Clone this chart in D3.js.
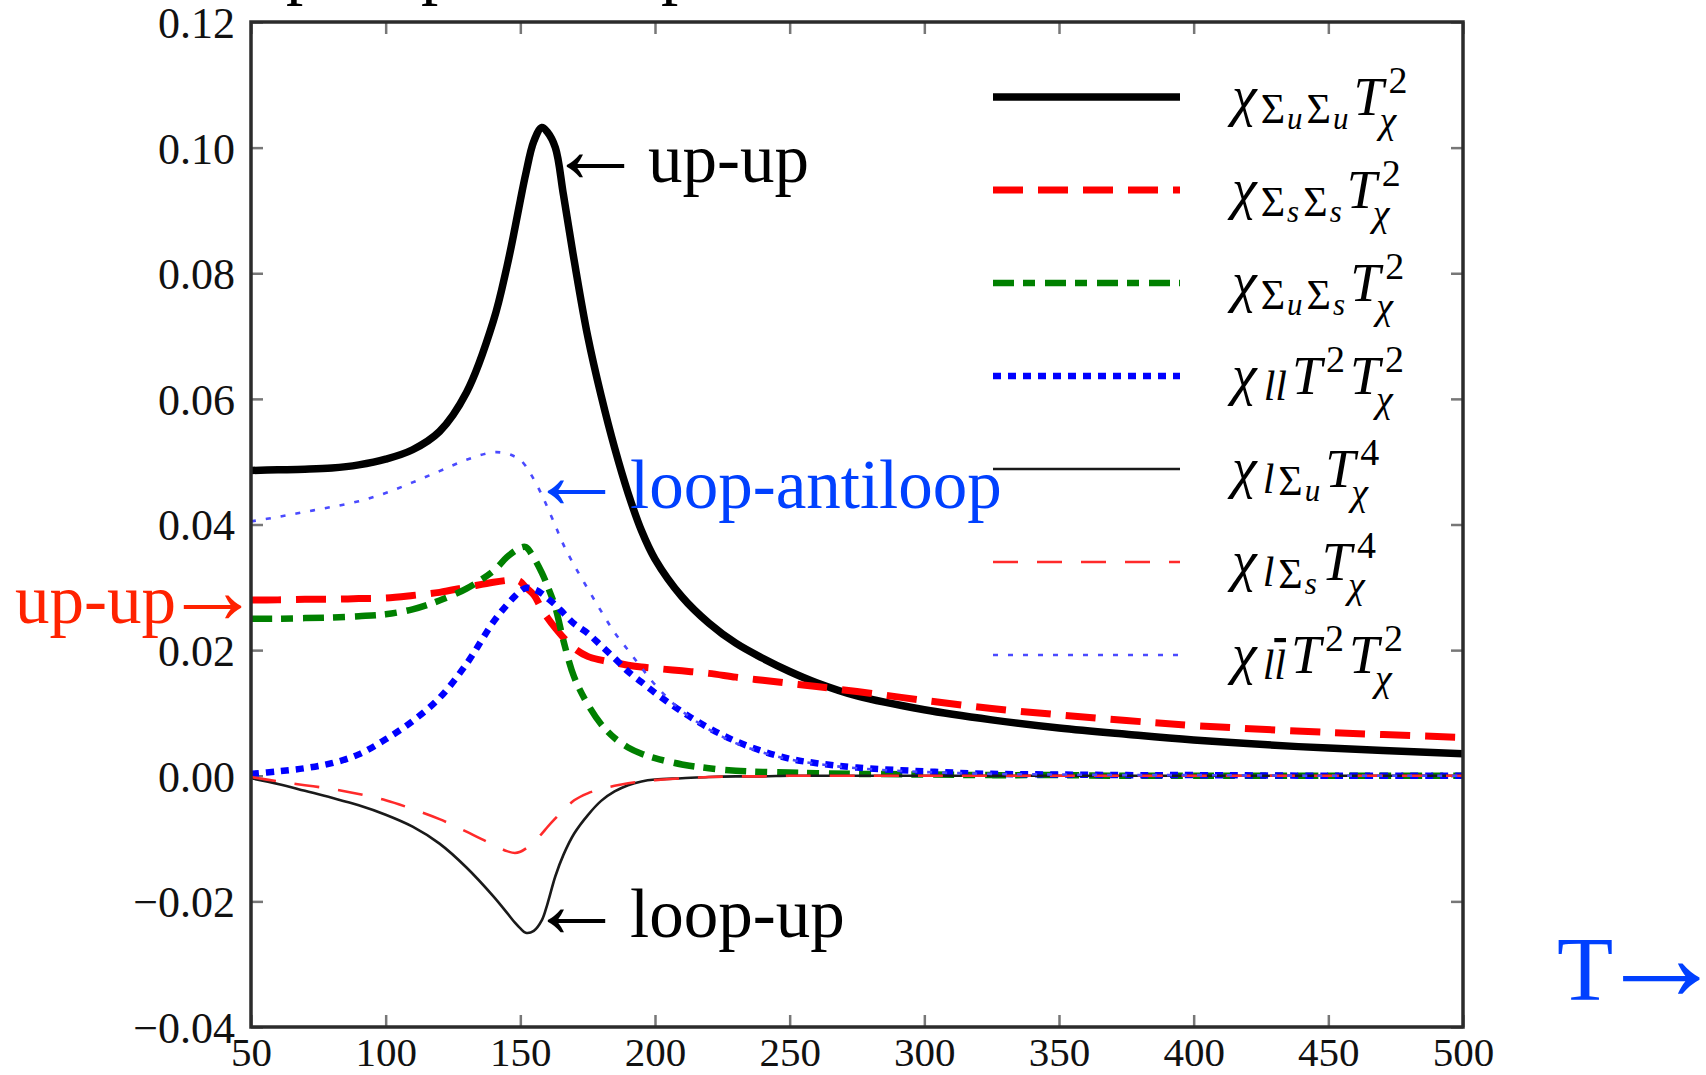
<!DOCTYPE html>
<html><head><meta charset="utf-8">
<script src="https://cdn.jsdelivr.net/npm/d3@7"></script>
<style>
html,body{margin:0;padding:0;background:#fff;}
svg{display:block;font-family:'Liberation Serif','Times New Roman',serif;}
</style></head><body>
<svg id="chart" width="1706" height="1075"></svg>
<script>
// ---- data ----
const tempT  = [50,60,70,80,90,100,110,120,130,140,145,148,150,152,155,158,160,163,166,170,175,180,185,190,195,200,210,220,230,240,250,260,275,300,325,350,375,400,450,500];
const chiUU  = [.0486,.0487,.0488,.0490,.0495,.0504,.0519,.0548,.0610,.0724,.0810,.0872,.0916,.0958,.1010,.1032,.1025,.1000,.0925,.0820,.0700,.0605,.0522,.0450,.0390,.0345,.0285,.0243,.0211,.0187,.0166,.0148,.0127,.0105,.0089,.0076,.0066,.0057,.0044,.0035];
const chiSS  = [.0280,.0280,.0281,.0281,.0282,.0283,.0287,.0292,.0300,.0308,.0311,.0312,.0309,.0300,.0288,.0265,.0252,.0235,.0220,.0203,.0190,.0184,.0180,.0176,.0173,.0171,.0167,.0163,.0157,.0152,.0147,.0142,.0134,.0120,.0107,.0097,.0088,.0080,.0069,.0061];
const chiUS  = [.0250,.0250,.0251,.0252,.0254,.0257,.0265,.0279,.0298,.0326,.0348,.0358,.0363,.0364,.0347,.0323,.0303,.0268,.0215,.0157,.0114,.0082,.0060,.0045,.0035,.0028,.0018,.0012,.0008,.0006,.0005,.0004,.0003,.0002,.0001,.0001,0,0,0,0];
const chiLL  = [.0003,.0007,.0012,.0020,.0034,.0058,.0087,.0124,.0178,.0245,.0272,.0286,.0294,.0299,.0297,.0290,.0283,.0272,.0259,.0242,.0227,.0207,.0187,.0166,.0149,.0132,.0102,.0076,.0055,.0039,.0027,.0020,.0013,.0007,.0003,.0002,.0001,.0001,0,0];
const chiLU  = [-.0004,-.0013,-.0024,-.0035,-.0047,-.0062,-.0081,-.0108,-.0146,-.0192,-.0218,-.0234,-.0243,-.0250,-.0247,-.0230,-.0205,-.0160,-.0126,-.0092,-.0063,-.0040,-.0025,-.0015,-.0009,-.0006,-.0004,-.0002,-.0001,-.0001,0,0,0,0,0,0,0,0,0,0];
const chiLS  = [-.0002,-.0009,-.0015,-.0021,-.0029,-.0039,-.0053,-.0069,-.0089,-.0110,-.0120,-.0123,-.0121,-.0116,-.0105,-.0092,-.0082,-.0068,-.0055,-.0039,-.0028,-.0021,-.0016,-.0012,-.0009,-.0007,-.0004,-.0002,-.0001,-.0001,0,0,0,0,0,0,0,0,0,0];
const chiLLb = [.0405,.0412,.0420,.0428,.0437,.0450,.0467,.0485,.0503,.0515,.0513,.0508,.0503,.0493,.0472,.0447,.0428,.0398,.0368,.0335,.0298,.0262,.0228,.0200,.0172,.0145,.0103,.0074,.0052,.0037,.0026,.0019,.0012,.0006,.0003,.0002,.0001,.0001,0,0];

const xTickValues = [50,100,150,200,250,300,350,400,450,500];
const xTickLabels = ["50","100","150","200","250","300","350","400","450","500"];
const yTickValues = [-0.04,-0.02,0,0.02,0.04,0.06,0.08,0.10,0.12];
const yTickLabels = ["\u22120.04","\u22120.02","0.00","0.02","0.04","0.06","0.08","0.10","0.12"];

// ---- setup ----
const svg = d3.select("#chart");
svg.append("rect").attr("width",1706).attr("height",1075).attr("fill","#fff");
const L=251,R=1463,TOP=22,BOT=1027;
const x = d3.scaleLinear().domain([50,500]).range([L,R]);
const y = d3.scaleLinear().domain([-0.04,0.12]).range([BOT,TOP]);

const series = [
  {v:chiUU,  color:"#000000", w:7.5, dash:null},
  {v:chiSS,  color:"#ff0000", w:7,   dash:"30,15"},
  {v:chiUS,  color:"#008000", w:6.5, dash:"21,9,12,10"},
  {v:chiLL,  color:"#0000ff", w:6.5, dash:"8,7"},
  {v:chiLU,  color:"#1a1a1a", w:2.6, dash:null},
  {v:chiLS,  color:"#ff2a2a", w:2.6, dash:"25,19"},
  {v:chiLLb, color:"#4a4aff", w:2.6, dash:"5,10"}
];

// axes ticks (inward on all four sides)
function styleAxis(g){
  g.select(".domain").remove();
  g.selectAll(".tick line").attr("stroke","#777").attr("stroke-width",2.5);
}
svg.append("g").attr("transform",`translate(0,${BOT})`)
  .call(d3.axisBottom(x).tickValues(xTickValues).tickSize(-12).tickPadding(0).tickFormat((d,i)=>xTickLabels[i]))
  .call(styleAxis)
  .call(g=>g.selectAll(".tick text").attr("y",39).attr("dy",null)
      .attr("font-family","'Liberation Serif',serif").attr("font-size",41).attr("fill","#111"));
svg.append("g").attr("transform",`translate(0,${TOP})`)
  .call(d3.axisTop(x).tickValues(xTickValues).tickSize(-12).tickFormat(""))
  .call(styleAxis);
svg.append("g").attr("transform",`translate(${L},0)`)
  .call(d3.axisLeft(y).tickValues(yTickValues).tickSize(-12).tickPadding(0).tickFormat((d,i)=>yTickLabels[i]))
  .call(styleAxis)
  .call(g=>g.selectAll(".tick text").attr("x",-16).attr("dy","0.35em")
      .attr("font-family","'Liberation Serif',serif").attr("font-size",44).attr("fill","#111"));
svg.append("g").attr("transform",`translate(${R},0)`)
  .call(d3.axisRight(y).tickValues(yTickValues).tickSize(-12).tickFormat(""))
  .call(styleAxis);

// curves
svg.append("clipPath").attr("id","clip").append("rect").attr("x",L).attr("y",TOP).attr("width",R-L).attr("height",BOT-TOP);
const line = d3.line().x(d=>x(d[0])).y(d=>y(d[1])).curve(d3.curveCatmullRom.alpha(0.5));
const plot = svg.append("g").attr("clip-path","url(#clip)");
series.forEach(s=>{
  plot.append("path").attr("d",line(tempT.map((t,i)=>[t,s.v[i]])))
    .attr("fill","none").attr("stroke",s.color).attr("stroke-width",s.w)
    .attr("stroke-dasharray",s.dash).attr("stroke-linejoin","round");
});

// frame
svg.append("rect").attr("x",L).attr("y",TOP).attr("width",R-L).attr("height",BOT-TOP)
  .attr("fill","none").attr("stroke","#2b2b2b").attr("stroke-width",3.5);

// legend
const CHI={t:"\u03c7",s:56,i:true,dx:3};
const SIG=(sub)=>[{t:"\u03a3",s:42,dy:8,dx:4},{t:sub,s:31,i:true,dy:14,dx:2}];
const TT={t:"T",s:54,i:true,dx:5};
const SUP2=(n)=>({t:n,s:38,dy:-22,dx:4});
const SUPSUB=(n)=>({stack:[{t:n,s:38,dy:-22,dx:5},{t:"\u03c7",s:38,i:true,dy:18,dx:-4}]});
const LSUB={t:"l",s:42,i:true,dy:6,dx:6};
const legendLabels = [
  [CHI,...SIG("u"),...SIG("u"),TT,SUPSUB("2")],
  [CHI,...SIG("s"),...SIG("s"),TT,SUPSUB("2")],
  [CHI,...SIG("u"),...SIG("s"),TT,SUPSUB("2")],
  [CHI,{t:"ll",s:42,i:true,dy:6,dx:7},TT,SUP2("2"),TT,SUPSUB("2")],
  [CHI,LSUB,...SIG("u"),TT,SUPSUB("4")],
  [CHI,LSUB,...SIG("s"),TT,SUPSUB("4")],
  [CHI,LSUB,{t:"l",s:42,i:true,dy:6,o:true},TT,SUP2("2"),TT,SUPSUB("2")]
];
const leg = svg.append("g").attr("fill","#000");
function addPiece(g,x0,base,p){
  return g.append("text").attr("x",x0).attr("y",base+(p.dy||0))
    .attr("font-size",p.s).attr("font-style",p.i?"italic":"normal")
    .attr("text-decoration",p.o?"overline":null).text(p.t);
}
series.forEach((s,k)=>{
  const ly = 97 + k*93;
  leg.append("line").attr("x1",993).attr("x2",1180).attr("y1",ly).attr("y2",ly)
    .attr("stroke",s.color).attr("stroke-width",s.w).attr("stroke-dasharray",s.dash);
  let cx = 1229; const base = ly+18;
  legendLabels[k].forEach(p=>{
    if(p.stack){
      let w=0;
      p.stack.forEach(q=>{const t=addPiece(leg,cx+(q.dx||0),base,q); w=Math.max(w,t.node().getComputedTextLength()+(q.dx||0));});
      cx+=w;
    } else {
      const t=addPiece(leg,cx+(p.dx||0),base,p);
      cx+=t.node().getComputedTextLength()+(p.dx||0);
    }
  });
});

// annotations
const ann = svg.append("g");
function annot(ax, tx, base, size, color, arrow, word, arrowFirst, arrowSize){
  const t = ann.append("text").attr("y",base).attr("font-size",size).attr("fill",color);
  const a = ()=>t.append("tspan").attr("x",ax).attr("font-size",arrowSize).text(arrow);
  const w = ()=>t.append("tspan").attr("x",tx).text(word);
  if(arrowFirst){a();w();}else{w();a();}
}
annot(547,648,182,69,"#000","\u2190","up-up",true,97);
annot(528,630,508,69,"#0040ff","\u2190","loop-antiloop",true,97);
annot(528,630,937,69,"#000","\u2190","loop-up",true,97);
annot(164,15,623,69,"#ff2200","\u2192","up-up",false,97);
annot(1597,1557,1000,92,"#0040ff","\u2192","T",false,129);
// cut-off line of text at the very top (only descenders visible)
[286,421,661].forEach(px=>ann.append("text").attr("x",px).attr("y",-9).attr("font-size",69).attr("fill","#000").text("p"));
</script>
</body></html>
